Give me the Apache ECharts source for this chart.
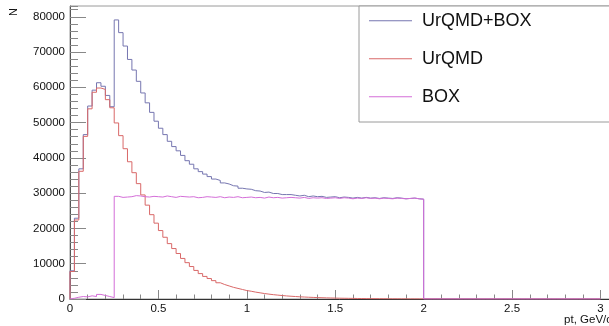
<!DOCTYPE html>
<html>
<head>
<meta charset="utf-8">
<script src="https://cdn.jsdelivr.net/npm/echarts@6/dist/echarts.min.js"></script>
<style>
html,body{margin:0;padding:0;background:#fff;}
#c{width:609px;height:326px;}
</style>
</head>
<body>
<div id="c"></div>
<script>
// pt bins: 120 bins of width 0.025 GeV/c from 0 to 3
const binStart = 0;
const binWidth = 0.025;
const xTickLabels = ['0', '0.5', '1', '1.5', '2', '2.5', '3'];
const seriesNames = ['UrQMD+BOX', 'UrQMD', 'BOX'];
const xTitle = 'pt, GeV/c';
const yTitle = 'N';

const urqmdBox = [
  8000, 22900, 36900, 46600, 54700, 59200, 61300, 60300, 57700, 54500,
  79100, 75500, 71700, 67900, 64900, 61700, 58400, 55600, 52900, 50400,
  48400, 46600, 44700, 43200, 42000, 40700, 39200, 38200, 36900, 36100,
  35400, 34700, 34000, 33600, 32900, 32600, 32100, 32000, 31400, 31200,
  31100, 30700, 30600, 30200, 30300, 29900, 29900, 29600, 29600, 29600,
  29400, 29200, 29400, 29000, 29200, 29000, 29100, 28800, 28900, 29000,
  28700, 28900, 28800, 28600, 28800, 28600, 28800, 28600, 28700, 28500,
  28700, 28600, 28500, 28700, 28600, 28400, 28500, 28600, 28400, 28300,
  27, 24, 22, 20, 18, 16, 14, 13, 12, 11,
  10, 9, 8, 7, 7, 6, 6, 5, 5, 4,
  4, 4, 3, 3, 3, 3, 2, 2, 2, 2,
  2, 2, 1, 1, 1, 1, 1, 1, 1, 1
];

const urqmd = [
  7800, 22400, 36200, 46100, 53900, 58600, 59800, 59400, 56500, 54200,
  49900, 46300, 42600, 38900, 35800, 32700, 29500, 26600, 23900, 21500,
  19400, 17500, 15700, 14300, 12900, 11500, 10300, 9200, 8100, 7200,
  6400, 5800, 5200, 4600, 4100, 3700, 3300, 3000, 2700, 2400,
  2200, 1950, 1750, 1550, 1380, 1230, 1100, 980, 870, 780,
  700, 620, 560, 500, 450, 400, 360, 320, 290, 260,
  230, 210, 190, 170, 150, 135, 120, 110, 100, 90,
  80, 72, 65, 58, 52, 47, 42, 38, 34, 30,
  27, 24, 22, 20, 18, 16, 14, 13, 12, 11,
  10, 9, 8, 7, 7, 6, 6, 5, 5, 4,
  4, 4, 3, 3, 3, 3, 2, 2, 2, 2,
  2, 2, 1, 1, 1, 1, 1, 1, 1, 1
];

const box = [
  200, 500, 700, 600, 900, 700, 1300, 1000, 700, 400,
  29100, 28800, 28900, 29000, 29300, 29200, 29000, 28900, 29100, 29000,
  28900, 29200, 29000, 28800, 29100, 29000, 28900, 29000, 28700, 28800,
  29000, 28900, 28800, 29000, 28700, 28900, 28800, 29000, 28700, 28800,
  28900, 28700, 28800, 28600, 28900, 28700, 28800, 28600, 28700, 28800,
  28700, 28600, 28800, 28500, 28700, 28600, 28700, 28500, 28600, 28700,
  28500, 28700, 28600, 28400, 28600, 28500, 28700, 28500, 28600, 28400,
  28600, 28500, 28400, 28600, 28500, 28400, 28500, 28600, 28400, 28300,
  0, 0, 0, 0, 0, 0, 0, 0, 0, 0,
  0, 0, 0, 0, 0, 0, 0, 0, 0, 0,
  0, 0, 0, 0, 0, 0, 0, 0, 0, 0,
  0, 0, 0, 0, 0, 0, 0, 0, 0, 0
];

// histogram outline: step at bin edges
function histPoints(vals) {
  const pts = [[binStart, 0]];
  for (let i = 0; i < vals.length; i++) {
    pts.push([+(binStart + (i + 1) * binWidth).toFixed(4), vals[i]]);
  }
  pts.push([+(binStart + vals.length * binWidth).toFixed(4), 0]);
  return pts;
}

const FONT = "'Liberation Sans', Arial, Helvetica, sans-serif";
const X_MAX = 3.065;
const Y_MAX = 83050;
const colors = ['#7676b0', '#d96868', '#d46ed8'];

const chart = echarts.init(document.getElementById('c'), null, {renderer: 'canvas'});
chart.setOption({
  animation: false,
  backgroundColor: '#fff',
  textStyle: {fontFamily: FONT},
  grid: {left: 70, top: 6, right: -3, bottom: 27, containLabel: false, outerBoundsMode: 'none',
    show: true, borderColor: '#9a9a9a', borderWidth: 1, backgroundColor: 'transparent'},
  legend: {
    orient: 'vertical', left: 359, top: 6,
    padding: [4.7, 90, 15.3, 10],
    itemGap: 18, itemWidth: 43, itemHeight: 1, icon: 'rect',
    borderColor: '#9a9a9a', borderWidth: 1, backgroundColor: '#fff',
    textStyle: {fontFamily: FONT, fontSize: 18, color: '#111', lineHeight: 20, padding: [0, 0, 0, 5]},
    data: seriesNames
  },
  xAxis: [{
    type: 'value', min: 0, max: X_MAX, interval: 0.5, position: 'bottom',
    axisLine: {show: true, lineStyle: {color: '#333', width: 1}},
    axisTick: {show: true, inside: true, length: 9, lineStyle: {color: '#888'}},
    splitLine: {show: false},
    axisLabel: {fontSize: 11.5, color: '#111', margin: 4, showMaxLabel: false,
      formatter: function (v) { const i = Math.round(v / 0.5); return Math.abs(v - i * 0.5) < 1e-6 && i < xTickLabels.length ? xTickLabels[i] : ''; }}
  }, {
    type: 'value', min: 0, max: X_MAX, interval: 0.1, position: 'bottom',
    axisLine: {show: false}, axisLabel: {show: false}, splitLine: {show: false},
    axisTick: {show: true, inside: true, length: 4.5, lineStyle: {color: '#888'}}
  }],
  yAxis: [{
    type: 'value', min: 0, max: Y_MAX, interval: 10000, position: 'left',
    axisLine: {show: true, lineStyle: {color: '#555', width: 1}},
    axisTick: {show: true, inside: true, length: 16, lineStyle: {color: '#888'}},
    splitLine: {show: false},
    axisLabel: {fontSize: 11.5, color: '#111', margin: 5, showMaxLabel: false, formatter: function (v) { return String(v); }}
  }, {
    type: 'value', min: 0, max: Y_MAX, interval: 2000, position: 'left',
    axisLine: {show: false}, axisLabel: {show: false}, splitLine: {show: false},
    axisTick: {show: true, inside: true, length: 8, lineStyle: {color: '#888'}}
  }],
  graphic: [{
    type: 'text', x: 8, y: 16, rotation: Math.PI / 2,
    style: {text: yTitle, fontFamily: FONT, fontSize: 11, fill: '#111', align: 'left', verticalAlign: 'top'}
  }, {
    type: 'text', x: 612, y: 320,
    style: {text: xTitle, fontFamily: FONT, fontSize: 11.5, fill: '#111', align: 'right', verticalAlign: 'middle'}
  }],
  series: [
    {name: seriesNames[0], type: 'line', step: 'start', symbol: 'none', data: histPoints(urqmdBox),
      color: colors[0], lineStyle: {color: colors[0], width: 1}, z: 2},
    {name: seriesNames[1], type: 'line', step: 'start', symbol: 'none', data: histPoints(urqmd),
      color: colors[1], lineStyle: {color: colors[1], width: 1}, z: 3},
    {name: seriesNames[2], type: 'line', step: 'start', symbol: 'none', data: histPoints(box),
      color: colors[2], lineStyle: {color: colors[2], width: 1}, z: 4}
  ]
});
</script>
</body>
</html>
